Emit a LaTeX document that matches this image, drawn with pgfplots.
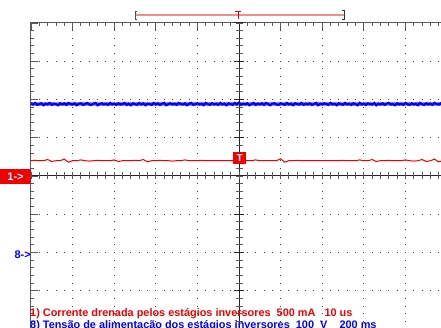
\documentclass[border=0pt]{standalone}
\usepackage{pgfplots}
\pgfplotsset{compat=1.18}
\usepackage{fontspec}
\setmainfont{Liberation Sans}
\definecolor{scopered}{RGB}{240,0,0}
\definecolor{scopeblue}{RGB}{0,0,255}
\definecolor{bordergray}{RGB}{90,90,90}
\definecolor{barpink}{RGB}{245,140,140}
\begin{document}
\begin{tikzpicture}
\useasboundingbox (-239pt,-152pt) rectangle (202pt,176pt);
\fill[white] (-239pt,-152pt) rectangle (202pt,176pt);
\clip (-239pt,-152pt) rectangle (202pt,176pt);
\begin{axis}[
  x=41.6pt, y=38.25pt,
  xmin=-5, xmax=5, ymin=-4, ymax=4,
  anchor=origin, at={(0pt,0pt)},
  xtick={-5,...,5}, ytick={-4,...,4},
  minor x tick num=4, minor y tick num=4,
  xticklabels={}, yticklabels={},
  xtick pos=right, ytick pos=left,
  major tick length=7pt, minor tick length=3.5pt,
  tick style={bordergray, line width=0.9pt},
  axis line style={bordergray, line width=1pt},
  grid=major,
  x grid style={black!75, line width=0.9pt, dash pattern=on 0.9pt off 6.75pt, dash phase=0.45pt},
  y grid style={black!75, line width=0.9pt, dash pattern=on 0.9pt off 7.42pt, dash phase=0.45pt},
  clip=false,
]
% blue trace (channel 8), light fringe
\addplot[scopeblue!45, line width=3.6pt, line join=miter, forget plot] coordinates {
(-5.00,1.88)(-4.00,1.88)(-3.00,1.88)(-2.00,1.88)(-1.00,1.88)(0.00,1.88)(1.00,1.88)(2.00,1.88)(3.00,1.88)(4.00,1.88)(4.95,1.88)
};
% blue trace (channel 8)
\addplot[scopeblue, line width=2.2pt, line join=miter] coordinates {
(-5.00,1.90)(-4.95,1.87)(-4.90,1.91)(-4.85,1.86)(-4.80,1.88)(-4.75,1.90)(-4.70,1.85)(-4.65,1.89)(-4.60,1.87)(-4.55,1.91)
(-4.50,1.86)(-4.45,1.89)(-4.40,1.88)(-4.35,1.85)(-4.30,1.90)(-4.25,1.87)(-4.20,1.90)(-4.15,1.86)(-4.10,1.91)(-4.05,1.88)
(-4.00,1.87)(-3.95,1.90)(-3.90,1.85)(-3.85,1.89)(-3.80,1.90)(-3.75,1.86)(-3.70,1.88)(-3.65,1.91)(-3.60,1.87)(-3.55,1.86)
(-3.50,1.89)(-3.45,1.91)(-3.40,1.85)(-3.35,1.88)(-3.30,1.90)(-3.25,1.87)(-3.20,1.89)(-3.15,1.86)(-3.10,1.91)(-3.05,1.87)
(-3.00,1.89)(-2.95,1.86)(-2.90,1.90)(-2.85,1.87)(-2.80,1.88)(-2.75,1.91)(-2.70,1.86)(-2.65,1.89)(-2.60,1.85)(-2.55,1.90)
(-2.50,1.88)(-2.45,1.86)(-2.40,1.91)(-2.35,1.87)(-2.30,1.90)(-2.25,1.85)(-2.20,1.89)(-2.15,1.88)(-2.10,1.86)(-2.05,1.91)
(-2.00,1.87)(-1.95,1.90)(-1.90,1.86)(-1.85,1.89)(-1.80,1.91)(-1.75,1.85)(-1.70,1.88)(-1.65,1.90)(-1.60,1.87)(-1.55,1.89)
(-1.50,1.86)(-1.45,1.91)(-1.40,1.88)(-1.35,1.87)(-1.30,1.90)(-1.25,1.85)(-1.20,1.89)(-1.15,1.91)(-1.10,1.86)(-1.05,1.88)
(-1.00,1.90)(-0.95,1.87)(-0.90,1.89)(-0.85,1.85)(-0.80,1.91)(-0.75,1.88)(-0.70,1.86)(-0.65,1.90)(-0.60,1.87)(-0.55,1.89)
(-0.50,1.86)(-0.45,1.91)(-0.40,1.87)(-0.35,1.89)(-0.30,1.85)(-0.25,1.90)(-0.20,1.88)(-0.15,1.86)(-0.10,1.91)(-0.05,1.87)
(0.00,1.92)(0.05,1.86)(0.10,1.89)(0.15,1.87)(0.20,1.90)(0.25,1.85)(0.30,1.88)(0.35,1.91)(0.40,1.86)(0.45,1.89)
(0.50,1.87)(0.55,1.90)(0.60,1.86)(0.65,1.91)(0.70,1.88)(0.75,1.85)(0.80,1.89)(0.85,1.90)(0.90,1.87)(0.95,1.86)
(1.00,1.90)(1.05,1.88)(1.10,1.86)(1.15,1.91)(1.20,1.87)(1.25,1.89)(1.30,1.85)(1.35,1.90)(1.40,1.88)(1.45,1.87)
(1.50,1.91)(1.55,1.86)(1.60,1.89)(1.65,1.87)(1.70,1.90)(1.75,1.86)(1.80,1.88)(1.85,1.91)(1.90,1.85)(1.95,1.89)
(2.00,1.87)(2.05,1.90)(2.10,1.88)(2.15,1.86)(2.20,1.91)(2.25,1.87)(2.30,1.89)(2.35,1.85)(2.40,1.90)(2.45,1.88)
(2.50,1.86)(2.55,1.91)(2.60,1.87)(2.65,1.89)(2.70,1.86)(2.75,1.90)(2.80,1.88)(2.85,1.85)(2.90,1.91)(2.95,1.87)
(3.00,1.89)(3.05,1.86)(3.10,1.90)(3.15,1.88)(3.20,1.87)(3.25,1.91)(3.30,1.85)(3.35,1.89)(3.40,1.87)(3.45,1.90)
(3.50,1.86)(3.55,1.89)(3.60,1.91)(3.65,1.87)(3.70,1.88)(3.75,1.85)(3.80,1.90)(3.85,1.87)(3.90,1.89)(3.95,1.86)
(4.00,1.91)(4.05,1.88)(4.10,1.86)(4.15,1.90)(4.20,1.87)(4.25,1.89)(4.30,1.85)(4.35,1.91)(4.40,1.88)(4.45,1.86)
(4.50,1.90)(4.55,1.87)(4.60,1.89)(4.65,1.86)(4.70,1.91)(4.75,1.88)(4.80,1.87)(4.85,1.90)(4.90,1.85)(4.95,1.89)
};
% red trace (channel 1)
\addplot[scopered, line width=1pt] coordinates {
(-5.0,0.40)(-4.9,0.41)(-4.8,0.40)(-4.7,0.40)(-4.6,0.43)(-4.5,0.38)(-4.4,0.40)(-4.3,0.40)(-4.2,0.44)(-4.1,0.36)
(-4.0,0.40)(-3.9,0.40)(-3.8,0.42)(-3.7,0.40)(-3.6,0.39)(-3.5,0.40)(-3.4,0.41)(-3.3,0.40)(-3.2,0.40)(-3.1,0.40)
(-3.0,0.42)(-2.9,0.38)(-2.8,0.40)(-2.7,0.40)(-2.6,0.40)(-2.5,0.41)(-2.4,0.40)(-2.3,0.43)(-2.2,0.37)(-2.1,0.40)
(-2.0,0.40)(-1.9,0.41)(-1.8,0.40)(-1.7,0.40)(-1.6,0.39)(-1.5,0.40)(-1.4,0.40)(-1.3,0.42)(-1.2,0.40)(-1.1,0.40)
(-1.0,0.40)(-0.9,0.41)(-0.8,0.40)(-0.7,0.40)(-0.6,0.40)(-0.5,0.40)(-0.4,0.40)(-0.3,0.40)(-0.2,0.40)(-0.1,0.40)
(0.0,0.40)(0.1,0.40)(0.2,0.40)(0.3,0.40)(0.4,0.42)(0.5,0.40)(0.6,0.40)(0.7,0.40)(0.8,0.40)(0.9,0.40)
(1.0,0.45)(1.1,0.36)(1.2,0.40)(1.3,0.40)(1.4,0.41)(1.5,0.40)(1.6,0.40)(1.7,0.40)(1.8,0.40)(1.9,0.40)
(2.0,0.40)(2.1,0.40)(2.2,0.40)(2.3,0.40)(2.4,0.40)(2.5,0.41)(2.6,0.40)(2.7,0.40)(2.8,0.40)(2.9,0.42)
(3.0,0.40)(3.1,0.40)(3.2,0.43)(3.3,0.38)(3.4,0.40)(3.5,0.40)(3.6,0.41)(3.7,0.40)(3.8,0.40)(3.9,0.40)
(4.0,0.42)(4.1,0.40)(4.2,0.39)(4.3,0.40)(4.4,0.43)(4.5,0.38)(4.6,0.40)(4.7,0.44)(4.8,0.37)(4.9,0.40)
};
\end{axis}
% centre cross
\draw[black!85, line width=1pt] (0pt,-153pt) -- (0pt,153pt);
\draw[black!85, line width=1pt] (-208pt,0pt) -- (208pt,0pt);
\foreach \i in {-25,...,25} {
  \draw[bordergray, line width=0.9pt] ({\i*8.32pt},-3.5pt) -- ({\i*8.32pt},3.5pt);
}
\foreach \i in {-20,...,20} {
  \draw[bordergray, line width=0.9pt] (-3.5pt,{\i*7.65pt}) -- (3.5pt,{\i*7.65pt});
}
\foreach \i in {-4,...,4} {
  \draw[black!85, line width=1pt] (-5pt,{\i*38.25pt}) -- (5pt,{\i*38.25pt});
}
% top time ruler
\draw[barpink, line width=1.5pt] (-104pt,161pt) -- (105pt,161pt);
\draw[black!70, line width=0.8pt] (-102pt,165pt) -- (-104pt,165pt) -- (-104pt,157pt) -- (-102pt,157pt);
\draw[black!80, line width=1pt] (103pt,165pt) -- (105pt,165pt) -- (105pt,156pt) -- (103pt,156pt);
\draw[scopered, line width=0.8pt] (-4pt,165pt) -- (2pt,165pt) (-1pt,165pt) -- (-1pt,157pt);
% trigger marker
\node[fill=scopered, text=white, font=\bfseries\fontsize{10}{10}\selectfont, minimum width=13pt, minimum height=12pt, inner sep=0pt] at (0.8pt,18pt) {T};
% channel markers
\node[fill=scopered, text=white, font=\bfseries\fontsize{11}{11}\selectfont, minimum width=31pt, minimum height=15pt, inner sep=0pt] at (-223.5pt,-0.5pt) {1->};
\node[text=scopeblue, font=\bfseries\fontsize{11}{11}\selectfont, anchor=east, inner sep=0pt] at (-208pt,-79pt) {8->};
% captions
\node[text=scopered, font=\bfseries\fontsize{10.9}{10.9}\selectfont, anchor=west, inner sep=0pt] at (-209pt,-137.5pt) {1) Corrente drenada pelos estágios inversores\ \ 500 mA\ \ \ 10 us};
\node[text=scopeblue, font=\bfseries\fontsize{10.9}{10.9}\selectfont, anchor=west, inner sep=0pt] at (-209pt,-149.5pt) {8) Tensão de alimentação dos estágios inversores\ \ 100\ \ V\ \ \ \ 200 ms};
\end{tikzpicture}
\end{document}
